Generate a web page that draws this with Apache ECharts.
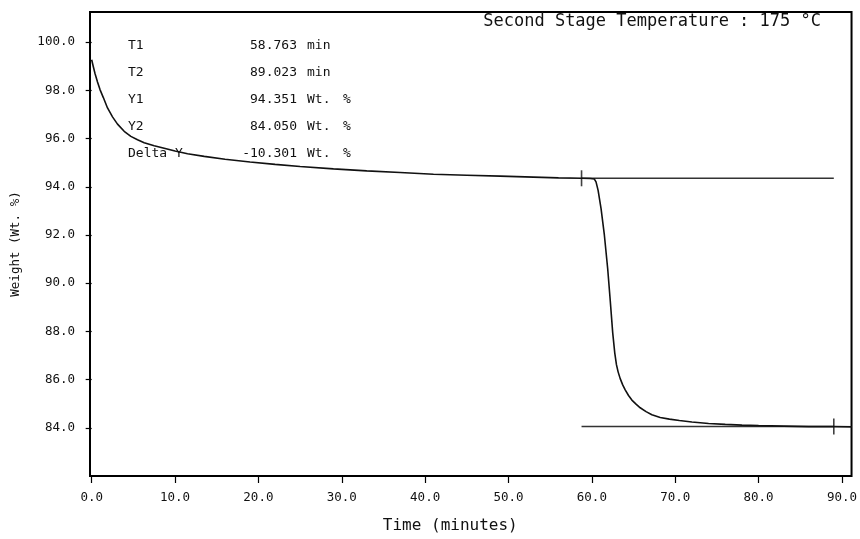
<!DOCTYPE html>
<html>
<head>
<meta charset="utf-8">
<script src="https://cdn.jsdelivr.net/npm/echarts@6/dist/echarts.min.js"></script>
<style>
html,body{margin:0;padding:0;background:#fff;}
#chart{width:860px;height:539px;}
</style>
</head>
<body>
<div id="chart"></div>
<script>
// Weight curve
const timeMin = [0, 0.2, 0.4, 0.7, 1.0, 1.4, 1.9, 2.5, 3.1, 3.9, 4.7, 5.5, 6.3, 7.5, 8.7, 10, 11.5, 13.5, 16, 19, 22, 25, 29, 33, 37, 41, 45, 49, 53, 56, 58.8, 59.8, 60.3, 60.5, 60.75, 61.1, 61.5, 61.9, 62.2, 62.5, 62.75, 62.95, 63.15, 63.4, 63.7, 64.0, 64.4, 64.8, 65.3, 65.8, 66.5, 67.2, 68.2, 69.3, 70.5, 72, 74, 76, 78, 80, 83, 86, 89, 91.2];
const weightPct = [99.27, 98.98, 98.7, 98.35, 98.03, 97.7, 97.27, 96.9, 96.6, 96.3, 96.09, 95.95, 95.83, 95.7, 95.6, 95.48, 95.37, 95.26, 95.14, 95.03, 94.93, 94.84, 94.74, 94.66, 94.59, 94.52, 94.48, 94.44, 94.4, 94.37, 94.35, 94.34, 94.32, 94.2, 93.85, 93.1, 92.0, 90.6, 89.3, 87.95, 87.1, 86.62, 86.32, 86.04, 85.78, 85.57, 85.34, 85.15, 84.98, 84.83, 84.67, 84.54, 84.43, 84.36, 84.3, 84.24, 84.18, 84.14, 84.11, 84.09, 84.07, 84.05, 84.05, 84.04];

const xTicks = [0, 10, 20, 30, 40, 50, 60, 70, 80, 90];
const yTicks = [84, 86, 88, 90, 92, 94, 96, 98, 100];

// Analysis markers
const T1 = 58.763, T2 = 89.023, Y1 = 94.351, Y2 = 84.050, deltaY = -10.301;
const infoLabels = ['T1', 'T2', 'Y1', 'Y2', 'Delta Y'];
const infoValues = [T1, T2, Y1, Y2, deltaY];
const infoUnits = ['min', 'min', 'Wt.', 'Wt.', 'Wt.'];
const infoPercent = ['', '', '%', '%', '%'];
const titleText = 'Second Stage Temperature : 175 °C';

const FONT = '"DejaVu Sans Mono", "Liberation Mono", monospace';
const chart = echarts.init(document.getElementById('chart'));

const rowY = [46, 72.7, 99.3, 126.7, 153.3];
const graphics = [];
infoLabels.forEach((lab, i) => {
  graphics.push({type:'text', x:128, y:rowY[i], style:{text:lab, font:'13px '+FONT, fill:'#111', textVerticalAlign:'middle', textAlign:'left'}});
  graphics.push({type:'text', x:297, y:rowY[i], style:{text:infoValues[i].toFixed(3), font:'13px '+FONT, fill:'#111', textVerticalAlign:'middle', textAlign:'right'}});
  graphics.push({type:'text', x:307, y:rowY[i], style:{text:infoUnits[i], font:'13px '+FONT, fill:'#111', textVerticalAlign:'middle', textAlign:'left'}});
  if (infoPercent[i]) graphics.push({type:'text', x:343, y:rowY[i], style:{text:infoPercent[i], font:'13px '+FONT, fill:'#111', textVerticalAlign:'middle', textAlign:'left'}});
});
graphics.push({type:'text', x:821, y:22, style:{text:titleText, font:'17px '+FONT, fill:'#111', textVerticalAlign:'middle', textAlign:'right'}});

chart.setOption({
  animation: false,
  backgroundColor: '#fff',
  grid: {left: 90, right: 3, top: 12, bottom: 62, show: true, borderColor: '#000', borderWidth: 2, backgroundColor: 'transparent'},
  xAxis: {
    type: 'value', min: -0.2, max: 91.15,
    name: 'Time (minutes)', nameLocation: 'middle', nameGap: 42,
    nameTextStyle: {fontFamily: FONT, fontSize: 16, color: '#111', padding: [0, 41, 0, 0]},
    axisLine: {show: false},
    axisTick: {show: true, inside: false, length: 7, lineStyle: {color: '#000', width: 1.2}, customValues: xTicks},
    axisLabel: {show: true, margin: 15, fontFamily: FONT, fontSize: 12.5, color: '#111', customValues: xTicks, formatter: v => v.toFixed(1)},
    splitLine: {show: false}
  },
  yAxis: {
    type: 'value', min: 82.0, max: 101.25,
    name: 'Weight (Wt. %)', nameLocation: 'middle', nameGap: 68, nameRotate: 90,
    nameTextStyle: {fontFamily: FONT, fontSize: 12.5, color: '#111'},
    axisLine: {show: false},
    axisTick: {show: true, inside: false, length: 6, lineStyle: {color: '#000', width: 1.2}, customValues: yTicks},
    axisLabel: {show: true, margin: 15, fontFamily: FONT, fontSize: 12.5, color: '#111', customValues: yTicks, formatter: v => v.toFixed(1)},
    splitLine: {show: false}
  },
  series: [
    {type: 'line', data: timeMin.map((t, i) => [t, weightPct[i]]), showSymbol: false, lineStyle: {color: '#111', width: 1.6}, z: 3},
    {type: 'line', data: [[T1, Y1], [T2, Y1]], showSymbol: false, lineStyle: {color: '#333', width: 1.5}, z: 2},
    {type: 'line', data: [[T1, Y2], [T2, Y2]], showSymbol: false, lineStyle: {color: '#333', width: 1.5}, z: 2},
    {type: 'scatter', data: [[T1, Y1], [T2, Y2]], symbol: 'rect', symbolSize: [1.6, 16], itemStyle: {color: '#111'}, z: 4}
  ],
  graphic: graphics
});
</script>
</body>
</html>
